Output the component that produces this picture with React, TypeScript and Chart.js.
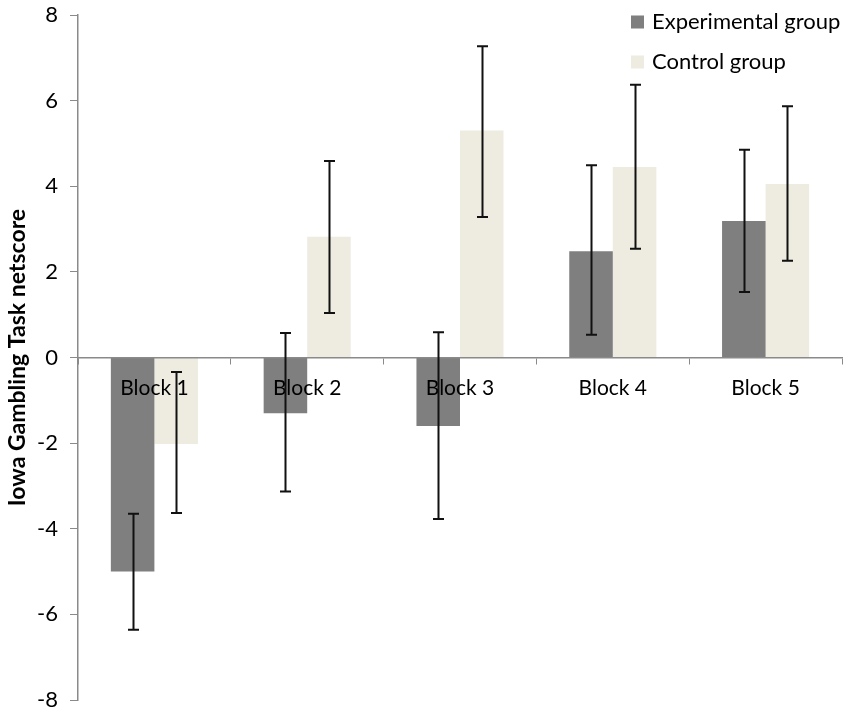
import React, { useEffect, useRef } from "react";
import { Chart, registerables } from "chart.js";

Chart.register(...registerables);

const categories = ["Block 1", "Block 2", "Block 3", "Block 4", "Block 5"];
const seriesNames = ["Experimental group", "Control group"];
const seriesColors = ["#7f7f7f", "#eeece1"];

const expValues = [-5.0, -1.3, -1.6, 2.48, 3.19];
const expErrLow = [-6.36, -3.13, -3.77, 0.53, 1.53];
const expErrHigh = [-3.65, 0.57, 0.59, 4.49, 4.85];

const ctrlValues = [-2.02, 2.82, 5.3, 4.45, 4.05];
const ctrlErrLow = [-3.63, 1.04, 3.28, 2.54, 2.26];
const ctrlErrHigh = [-0.34, 4.59, 7.27, 6.37, 5.87];

const yTicks = [-8, -6, -4, -2, 0, 2, 4, 6, 8];

const FONT = "Lato, 'Open Sans', sans-serif";
const AXIS_GREY = "#8a8a8a";

const errorBarPlugin = {
  id: "errorBars",
  afterDraw(chart: any) {
    const ctx = chart.ctx;
    const yScale = chart.scales.y;
    const errs = [
      [expErrLow, expErrHigh],
      [ctrlErrLow, ctrlErrHigh],
    ];
    ctx.save();
    ctx.strokeStyle = "#111";
    ctx.lineWidth = 2;
    chart.data.datasets.forEach((ds: any, di: number) => {
      const meta = chart.getDatasetMeta(di);
      meta.data.forEach((bar: any, i: number) => {
        const x = Math.round(bar.x) + 0.5;
        const yLo = yScale.getPixelForValue(errs[di][0][i]);
        const yHi = yScale.getPixelForValue(errs[di][1][i]);
        const cap = 5.5;
        ctx.beginPath();
        ctx.moveTo(x, yLo);
        ctx.lineTo(x, yHi);
        ctx.moveTo(x - cap, yLo);
        ctx.lineTo(x + cap, yLo);
        ctx.moveTo(x - cap, yHi);
        ctx.lineTo(x + cap, yHi);
        ctx.stroke();
      });
    });
    ctx.restore();
  },
};

const legendPlugin = {
  id: "cornerLegend",
  afterDraw(chart: any) {
    const ctx = chart.ctx;
    ctx.save();
    ctx.font = `22px ${FONT}`;
    ctx.textBaseline = "middle";
    ctx.textAlign = "left";
    chart.data.datasets.forEach((ds: any, i: number) => {
      const cy = 22 + i * 40;
      ctx.fillStyle = ds.backgroundColor;
      ctx.fillRect(631, cy - 6.5, 13, 13);
      ctx.fillStyle = "#000";
      ctx.fillText(ds.label, 652, cy);
    });
    ctx.restore();
  },
};

export default function App() {
  const canvasRef = useRef<HTMLCanvasElement | null>(null);

  useEffect(() => {
    if (!canvasRef.current) return;
    const chart = new Chart(canvasRef.current, {
      type: "bar",
      data: {
        labels: categories,
        datasets: [
          {
            label: seriesNames[0],
            data: expValues,
            backgroundColor: seriesColors[0],
            borderWidth: 0,
            categoryPercentage: 0.57,
            barPercentage: 1.0,
          },
          {
            label: seriesNames[1],
            data: ctrlValues,
            backgroundColor: seriesColors[1],
            borderWidth: 0,
            categoryPercentage: 0.57,
            barPercentage: 1.0,
          },
        ],
      },
      options: {
        responsive: false,
        animation: false,
        devicePixelRatio: 1,
        layout: { padding: { top: 15, bottom: 15, right: 8, left: 0 } },
        plugins: {
          legend: { display: false },
          tooltip: { enabled: false },
        },
        scales: {
          x: {
            position: { y: 0 } as any,
            grid: {
              display: true,
              offset: true,
              drawOnChartArea: false,
              drawTicks: true,
              tickLength: 6,
              color: AXIS_GREY,
              lineWidth: 1,
              z: 1,
            },
            border: { display: true, color: AXIS_GREY, width: 1.5, z: 1 },
            ticks: {
              color: "#000",
              font: { family: FONT, size: 21 },
              padding: 12,
              maxRotation: 0,
              z: 1,
            },
          },
          y: {
            min: -8,
            max: 8,
            afterBuildTicks: (scale: any) => {
              scale.ticks = yTicks.map((v) => ({ value: v }));
            },
            afterFit: (scale: any) => {
              scale.width = 78;
              scale.paddingTop = 10;
              scale.paddingBottom = 10;
            },
            grid: {
              display: true,
              drawOnChartArea: false,
              drawTicks: true,
              tickLength: 8,
              color: AXIS_GREY,
            },
            border: { display: true, color: AXIS_GREY, width: 1.5 },
            ticks: {
              color: "#000",
              font: { family: FONT, size: 22 },
              padding: 12,
            },
            title: {
              display: true,
              text: "Iowa Gambling Task netscore",
              color: "#000",
              font: { family: FONT, size: 23, weight: "bold" },
              padding: { top: 4, bottom: 0 },
            },
          },
        },
      },
      plugins: [errorBarPlugin, legendPlugin],
    });
    return () => chart.destroy();
  }, []);

  return (
    <div style={{ position: "absolute", left: 0, top: 0, width: 850, height: 715, background: "#fff" }}>
      <canvas ref={canvasRef} width={850} height={715} style={{ width: 850, height: 715 }} />
    </div>
  );
}
